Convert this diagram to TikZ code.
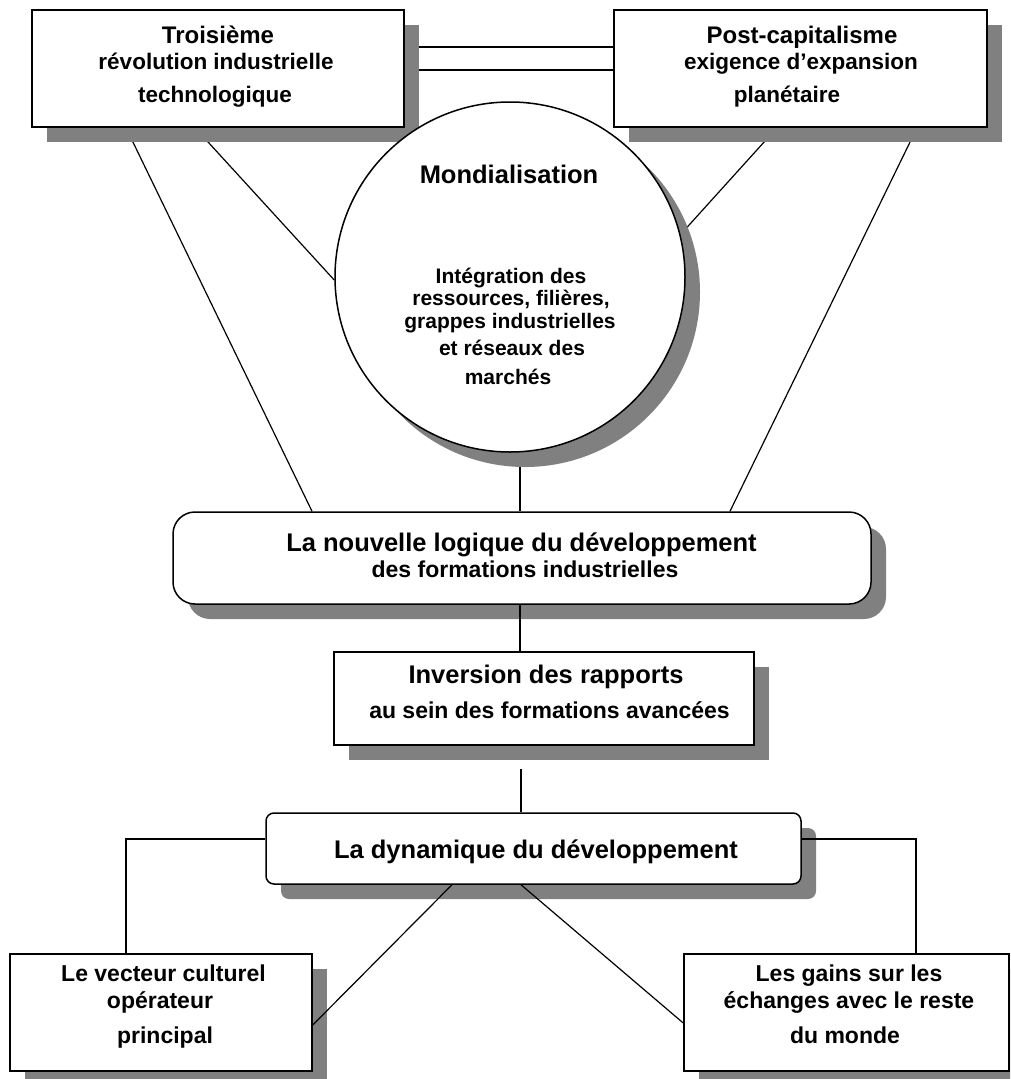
\documentclass[tikz,border=0pt]{standalone}
\usepackage{fontspec}
\setmainfont{Liberation Sans}
\usetikzlibrary{shadows,backgrounds}
\definecolor{shadowgray}{gray}{0.5}
\begin{document}
\begin{tikzpicture}[x=1pt,y=-1pt,
  boxshadow/.style={drop shadow={shadow xshift=15pt,shadow yshift=-15pt,fill=shadowgray,opacity=1}},
  box/.style={draw,line width=1.5pt,fill=white,inner sep=0pt,boxshadow},
  conn/.style={line width=1.2pt},
  txt/.style={anchor=base,inner sep=0pt},
  fa/.style={txt,font=\bfseries\fontsize{24}{28}\selectfont},
  fb/.style={txt,font=\bfseries\fontsize{22.5}{27}\selectfont},
  fc/.style={txt,font=\bfseries\fontsize{25.5}{30}\selectfont},
  fd/.style={txt,font=\bfseries\fontsize{23}{27}\selectfont},
  fe/.style={txt,font=\bfseries\fontsize{21}{25}\selectfont},
]
\useasboundingbox (0,0) rectangle (1010,1079);
\clip (0,0) rectangle (1010,1079);

% boxes
\node[box,minimum width=372pt,minimum height=117pt] (b1) at (218,68.5) {};
\node[box,minimum width=373pt,minimum height=117pt] (b2) at (800.5,68.5) {};
\node[box,circle,minimum size=350pt] (circ) at (510,277) {};
\node[box,rounded corners=22pt,minimum width=698pt,minimum height=92pt] (rr) at (522,558) {};
\node[box,minimum width=420pt,minimum height=93pt] (inv) at (544,698.5) {};
\node[box,rounded corners=8pt,minimum width=535pt,minimum height=71pt] (dyn) at (533.5,848.5) {};
\node[box,minimum width=302pt,minimum height=117pt] (vec) at (161,1012.5) {};
\node[box,minimum width=325pt,minimum height=117pt] (gains) at (846.5,1012.5) {};

% white page and the upper connectors, kept beneath boxes and shadows
\begin{scope}[on background layer]
  \fill[white] (0,0) rectangle (1010,1079);
  \draw[conn] ([yshift=21.5pt]b1.east) -- ([yshift=21.5pt]b2.west);
  \draw[conn] ([yshift=-1.5pt]b1.east) -- ([yshift=-1.5pt]b2.west);
  \draw[conn] ([xshift=-92pt]b1.south) -- ([xshift=-210pt]rr.north);
  \draw[conn] ([xshift=-23pt]b1.south) -- (circ.181);
  \draw[conn] ([xshift=-23.5pt]b2.south) -- (circ.14);
  \draw[conn] ([xshift=116.5pt]b2.south) -- ([xshift=208pt]rr.north);
  \draw[conn] ([xshift=10pt]circ.south) -- ([xshift=-2pt]rr.north);
  \draw[conn] ([yshift=9.5pt]dyn.west) -| ([xshift=-35pt]vec.north);
\end{scope}

% lower connectors, drawn across the shadows
\draw[conn] ([xshift=-2pt]rr.south) -- ([xshift=-24pt]inv.north);
\draw[conn,shorten <=23pt] ([xshift=-23pt]inv.south) -- ([xshift=-12.5pt]dyn.north);
\draw[conn] ([yshift=9.5pt]dyn.east) -| ([xshift=69.5pt]gains.north);
\draw[conn] ([xshift=-81.5pt]dyn.south) -- ([yshift=-12.5pt]vec.east);
\draw[conn] ([xshift=-12.5pt]dyn.south) -- ([yshift=-10.5pt]gains.west);

% texts
\node[fa] (b1a) at (218,43) {Troisième};
\node[fb] (b1b) at (216,69) {révolution industrielle};
\node[fb] (b1c) at (215,102) {technologique};

\node[fa] (b2a) at (802,43) {Post-capitalisme};
\node[fb] (b2b) at (801,69) {exigence d’expansion};
\node[fb] (b2c) at (787,102) {planétaire};

\node[fc] (ca) at (509,183) {Mondialisation};
\node[fe] (cb) at (511,283) {Intégration des};
\node[fe] (cc) at (511,305) {ressources, filières,};
\node[fe] (cd) at (510,328) {grappes industrielles};
\node[fe] (ce) at (512,355) {et réseaux des};
\node[fe] (cf) at (508,384) {marchés};

\node[fc] (ra) at (521.5,551) {La nouvelle logique du développement};
\node[fd] (rb) at (525,577) {des formations industrielles};

\node[fc] (ia) at (546,683) {Inversion des rapports};
\node[fd] (ib) at (549.5,718) {au sein des formations avancées};

\node[fc] (da) at (536,858) {La dynamique du développement};

\node[fd] (va) at (163.5,981) {Le vecteur culturel};
\node[fd] (vb) at (160,1008) {opérateur};
\node[fd] (vc) at (165,1043) {principal};

\node[fd] (ga) at (849,981) {Les gains sur les};
\node[fd] (gb) at (849,1008) {échanges avec le reste};
\node[fd] (gc) at (845,1043) {du monde};
\end{tikzpicture}
\end{document}
